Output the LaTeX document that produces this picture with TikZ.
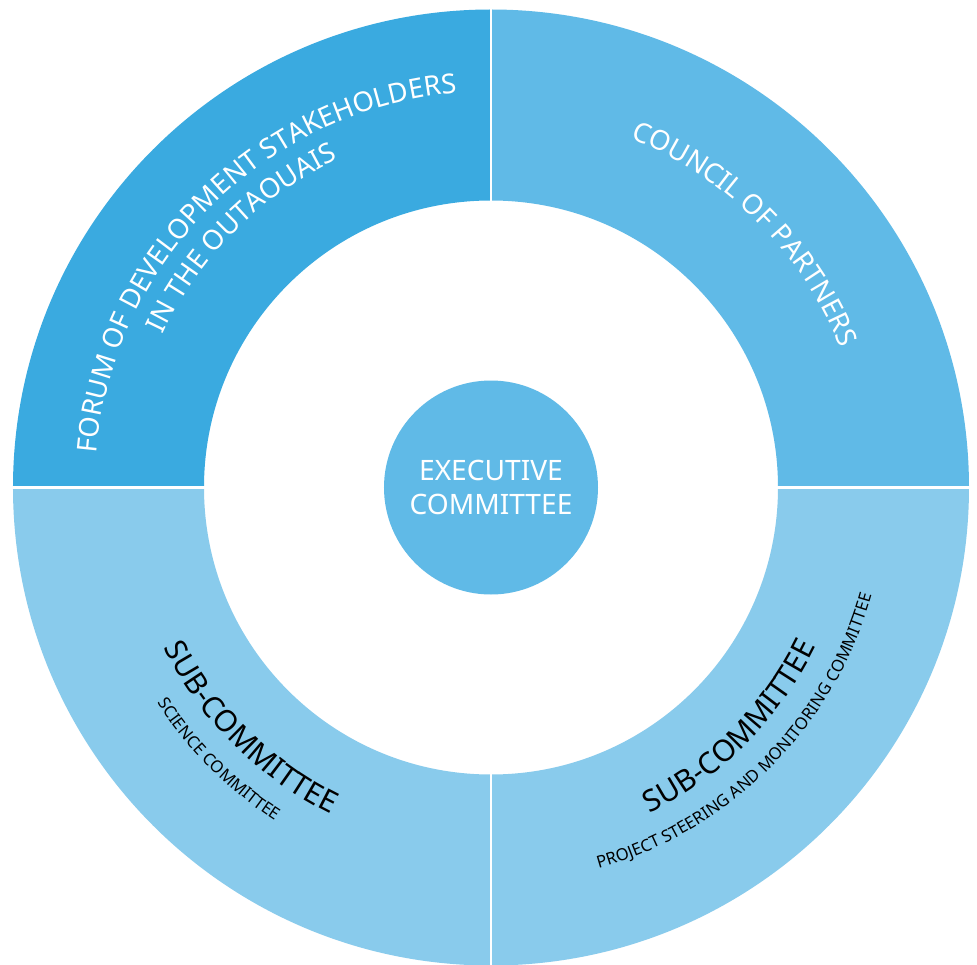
\documentclass[tikz,border=0pt]{standalone}
\usepackage{fontspec}
\setmainfont{Noto Sans}
\usepackage{tikz}
\usetikzlibrary{decorations.text,positioning}
\definecolor{forumblue}{RGB}{58,170,224}
\definecolor{councilblue}{RGB}{96,186,231}
\definecolor{subblue}{RGB}{137,203,236}

\tikzset{
  ringtext/.style={postaction={decorate},decoration={text along path,text align=center,text={#1}}}
}

\begin{document}
\begin{tikzpicture}
   \useasboundingbox[fill=white] (-9.82,-9.53) rectangle (9.72,9.75);
   \begin{scope}
    \fill[forumblue] (180:9.56) arc[start angle=180,end angle=90,radius=9.56] -- (90:5.74) arc[start angle=90,end angle=180,radius=5.74] -- cycle;
    \fill[councilblue] (90:9.56) arc[start angle=90,end angle=0,radius=9.56] -- (0:5.74) arc[start angle=0,end angle=90,radius=5.74] -- cycle;
    \fill[subblue] (270:9.56) arc[start angle=270,end angle=180,radius=9.56] -- (180:5.74) arc[start angle=180,end angle=270,radius=5.74] -- cycle;
    \fill[subblue] (0:9.56) arc[start angle=0,end angle=-90,radius=9.56] -- (-90:5.74) arc[start angle=-90,end angle=0,radius=5.74] -- cycle;
    \foreach \a in {0,90,180,270}
      \draw[white,line width=1.6pt] (\a:5.6) -- (\a:9.8);
   \end{scope}
   \node (ec) [circle,fill=councilblue,minimum size=4.28cm,inner sep=0pt,align=center,text=white,font=\fontsize{16}{19.3}\selectfont] at (0,0) {EXECUTIVE\\COMMITTEE};
   \begin{scope}
    \path[ringtext={|\fontsize{15.6}{19}\selectfont\color{white}|FORUM OF DEVELOPMENT STAKEHOLDERS}] (180:7.92) arc[start angle=180,end angle=90,radius=7.92];
    \path[ringtext={|\fontsize{15.6}{19}\selectfont\color{white}|IN THE OUTAOUAIS}] (180:7.24) arc[start angle=180,end angle=90,radius=7.24];
    \path[ringtext={|\fontsize{15.6}{19}\selectfont\color{white}|COUNCIL OF PARTNERS}] (90:7.52) arc[start angle=90,end angle=0,radius=7.52];
    \path[ringtext={|\fontsize{17}{20}\selectfont|SUB-COMMITTEE}] (180:7.28) arc[start angle=180,end angle=270,radius=7.28];
    \path[ringtext={|\fontsize{9.5}{11}\selectfont|SCIENCE COMMITTEE}] (180:7.94) arc[start angle=180,end angle=270,radius=7.94];
    \path[ringtext={|\fontsize{17}{20}\selectfont|SUB-COMMITTEE}] (270:7.24) arc[start angle=270,end angle=360,radius=7.24];
    \path[ringtext={|\fontsize{9.5}{11}\selectfont|PROJECT STEERING AND MONITORING COMMITTEE}] (270:7.92) arc[start angle=270,end angle=360,radius=7.92];
   \end{scope}
\end{tikzpicture}
\end{document}
